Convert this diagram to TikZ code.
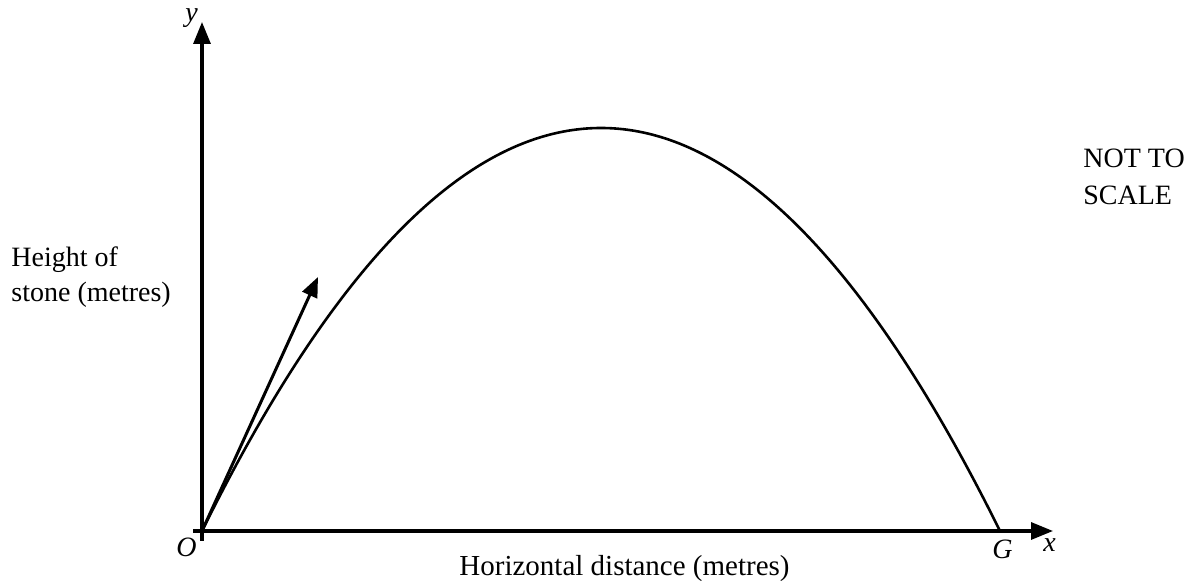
\documentclass[tikz,border=0pt]{standalone}
\usepackage{fontspec}
\setmainfont{Liberation Serif}
\usetikzlibrary{arrows.meta}
\begin{document}
\begin{tikzpicture}[x=0.5pt,y=-0.5pt,
  axis/.style={line width=1.6pt,-{Triangle[length=11pt,width=8.5pt]}},
  curve/.style={line width=1.3pt},
  lab/.style={inner sep=0pt,anchor=base west,font=\fontsize{14}{17}\selectfont},
  ital/.style={inner sep=0pt,anchor=base west,font=\fontsize{14}{17}\selectfont\itshape}]
\useasboundingbox (0,0) rectangle (1194,581);
\coordinate (O) at (202,531);
\coordinate (G) at (1000,531);
\coordinate (xs) at (193,531);
\coordinate (ys) at (202,541);
\coordinate (xe) at (1053,531);
\coordinate (ye) at (202,22);
\coordinate (v) at (318,277);
\draw[axis] (xs) -- (xe);
\draw[axis] (ys) -- (ye);
\draw[curve] (O) .. controls (468,-6.33) and (734,-6.33) .. (G);
\draw[line width=1.5pt,-{Triangle[length=10pt,width=8pt]}] (O) -- (v);
\node[ital] (lo) at (176,557) {O};
\node[ital] (lg) at (992,559) {G};
\node[ital] (lx) at (1043,552) {x};
\node[ital] (ly) at (185,22) {y};
\node[lab] (h1) at (11,267) {Height of};
\node[lab] (h2) at (11,302) {stone (metres)};
\node[lab] (n1) at (1083,168) {NOT TO};
\node[lab] (n2) at (1083,205) {SCALE};
\node[lab,font=\fontsize{14.5}{17}\selectfont] (hd) at (459,576) {Horizontal distance (metres)};
\end{tikzpicture}
\end{document}
